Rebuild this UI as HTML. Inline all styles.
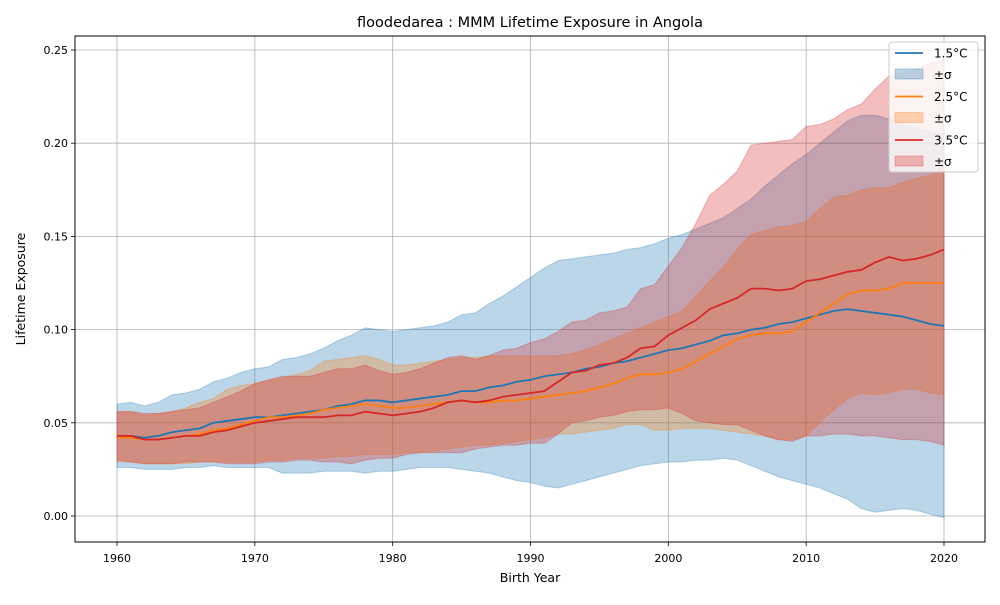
<!DOCTYPE html>
<html><head><meta charset="utf-8"><style>
body{margin:0;background:#fff;font-family:"Liberation Sans","DejaVu Sans",sans-serif}
svg text{font-family:"DejaVu Sans","Liberation Sans",sans-serif}
</style></head><body>
<svg id="chart" width="1000" height="600" viewBox="0 0 1000 600" xmlns="http://www.w3.org/2000/svg">
<rect width="1000" height="600" fill="#fff"/>
<g id="grid"></g>
<g id="bands"></g>
<g id="lines"></g>
<rect x="75" y="36" width="910" height="506" fill="none" stroke="#000" stroke-width="1"/>
<g id="ticks"></g>
<text x="530" y="27" text-anchor="middle" font-size="14.5">floodedarea : MMM Lifetime Exposure in Angola</text>
<text x="530" y="582" text-anchor="middle" font-size="12.5">Birth Year</text>
<text x="25" y="289" text-anchor="middle" font-size="12.5" transform="rotate(-90 25 289)">Lifetime Exposure</text>
<g id="legend"></g>
</svg>
<script>
const years=[];for(let y=1960;y<=2020;y++)years.push(y);
const xTicks=[1960,1970,1980,1990,2000,2010,2020];
const yTicks=[0,0.05,0.10,0.15,0.20,0.25];
const yTickLabels=["0.00","0.05","0.10","0.15","0.20","0.25"];
const m15=[.043,.043,.042,.043,.045,.046,.047,.050,.051,.052,.053,.053,.054,.055,.056,.057,.059,.060,.062,.062,.061,.062,.063,.064,.065,.067,.067,.069,.070,.072,.073,.075,.076,.077,.079,.080,.082,.083,.085,.087,.089,.090,.092,.094,.097,.098,.100,.101,.103,.104,.106,.108,.110,.111,.110,.109,.108,.107,.105,.103,.102];
const hi15=[.060,.061,.059,.061,.065,.066,.068,.072,.074,.077,.079,.080,.084,.085,.087,.090,.094,.097,.101,.100,.099,.100,.101,.102,.104,.108,.109,.114,.118,.123,.128,.133,.137,.138,.139,.140,.141,.143,.144,.146,.149,.151,.154,.157,.160,.165,.170,.177,.183,.189,.194,.200,.206,.212,.215,.215,.213,.210,.208,.206,.205];
const lo15=[.026,.026,.025,.025,.025,.026,.026,.027,.026,.026,.026,.026,.023,.023,.023,.024,.024,.024,.023,.024,.024,.025,.026,.026,.026,.025,.024,.023,.021,.019,.018,.016,.015,.017,.019,.021,.023,.025,.027,.028,.029,.029,.030,.030,.031,.030,.027,.024,.021,.019,.017,.015,.012,.009,.004,.002,.003,.004,.003,.001,-.001];
const m25=[.042,.042,.041,.041,.042,.043,.044,.046,.047,.049,.051,.053,.053,.054,.055,.057,.058,.059,.060,.059,.058,.058,.059,.060,.061,.062,.061,.061,.062,.062,.063,.064,.065,.066,.067,.069,.071,.074,.076,.076,.077,.079,.083,.087,.091,.095,.097,.098,.098,.099,.104,.109,.114,.119,.121,.121,.122,.125,.125,.125,.125];
const hi25=[.056,.056,.054,.055,.056,.058,.061,.063,.068,.070,.071,.073,.074,.076,.078,.083,.084,.085,.086,.084,.081,.081,.082,.083,.084,.085,.085,.086,.086,.086,.086,.086,.086,.087,.089,.092,.095,.098,.101,.104,.107,.110,.118,.126,.134,.143,.151,.153,.155,.156,.158,.165,.171,.172,.175,.176,.176,.179,.181,.183,.185];
const lo25=[.029,.029,.028,.028,.028,.028,.029,.029,.029,.029,.029,.030,.030,.031,.031,.031,.032,.032,.033,.033,.033,.034,.034,.035,.036,.037,.038,.038,.039,.040,.041,.042,.044,.044,.045,.046,.047,.049,.049,.046,.046,.047,.047,.047,.046,.045,.044,.043,.041,.041,.043,.050,.057,.063,.066,.065,.066,.068,.068,.066,.065];
const m35=[.043,.043,.041,.041,.042,.043,.043,.045,.046,.048,.050,.051,.052,.053,.053,.053,.054,.054,.056,.055,.054,.055,.056,.058,.061,.062,.061,.062,.064,.065,.066,.067,.072,.077,.078,.081,.082,.085,.090,.091,.097,.101,.105,.111,.114,.117,.122,.122,.121,.122,.126,.127,.129,.131,.132,.136,.139,.137,.138,.140,.143];
const hi35=[.056,.056,.055,.055,.056,.057,.058,.061,.064,.067,.071,.073,.075,.075,.075,.077,.079,.079,.081,.078,.076,.077,.079,.082,.085,.086,.084,.086,.089,.090,.093,.095,.099,.104,.105,.109,.110,.112,.122,.124,.134,.144,.157,.172,.178,.185,.199,.200,.201,.202,.209,.210,.213,.218,.221,.229,.236,.238,.240,.243,.245];
const lo35=[.030,.029,.028,.028,.028,.029,.029,.029,.028,.028,.028,.029,.029,.030,.030,.029,.029,.028,.030,.031,.031,.033,.034,.034,.034,.034,.036,.037,.038,.038,.039,.039,.044,.050,.051,.053,.054,.056,.057,.057,.058,.055,.051,.050,.049,.049,.046,.043,.041,.040,.043,.043,.044,.044,.043,.043,.042,.041,.041,.040,.038];

const X=v=>117+(v-1960)*(944-117)/60;
const Y=v=>516-v*(516-50)/0.25;
const NS="http://www.w3.org/2000/svg";
function mk(tag,attrs,parent){const e=document.createElementNS(NS,tag);for(const k in attrs)e.setAttribute(k,attrs[k]);parent.appendChild(e);return e;}
const grid=document.getElementById('grid'),ticks=document.getElementById('ticks');
xTicks.forEach(t=>{
  const g=mk('line',{x1:X(t),x2:X(t),y1:36,y2:542,stroke:'#b0b0b0','stroke-width':0.8},grid);
  
  
  mk('line',{x1:X(t),x2:X(t),y1:542,y2:546,stroke:'#000','stroke-width':0.8},ticks);
  const tx=mk('text',{x:X(t),y:562,'text-anchor':'middle','font-size':11},ticks);tx.textContent=t;
  
  
});
yTicks.forEach((t,i)=>{
  const g=mk('line',{x1:75,x2:985,y1:Y(t),y2:Y(t),stroke:'#b0b0b0','stroke-width':0.8},grid);
  
  
  mk('line',{x1:71,x2:75,y1:Y(t),y2:Y(t),stroke:'#000','stroke-width':0.8},ticks);
  const tx=mk('text',{x:68,y:Y(t)+4,'text-anchor':'end','font-size':11},ticks);tx.textContent=yTickLabels[i];
  
  
});
const series=[
 {name:'1.5',m:m15,hi:hi15,lo:lo15,c:'#1f77b4'},
 {name:'2.5',m:m25,hi:hi25,lo:lo25,c:'#ff7f0e'},
 {name:'3.5',m:m35,hi:hi35,lo:lo35,c:'#d62728'}];
const bands=document.getElementById('bands'),lines=document.getElementById('lines');
series.forEach(s=>{
  let d='M'+years.map((y,i)=>X(y)+','+Y(s.hi[i])).join('L');
  d+='L'+years.slice().reverse().map((y,k)=>{const i=years.length-1-k;return X(y)+','+Y(s.lo[i]);}).join('L')+'Z';
  const b=mk('path',{d:d,fill:s.c,'fill-opacity':0.3,stroke:s.c,'stroke-opacity':0.3,'stroke-width':1},bands);
  
  
});
series.forEach(s=>{
  const l=mk('polyline',{points:years.map((y,i)=>X(y)+','+Y(s.m[i])).join(' '),fill:'none',stroke:s.c,'stroke-width':1.8},lines);
  
  
});
const lg=document.getElementById('legend');
mk('rect',{x:889,y:42,width:89,height:130,fill:'#fff','fill-opacity':0.8,stroke:'#ccc',rx:3},lg);
series.forEach((s,i)=>{
  const y0=53+i*43.5;
  const ln=mk('line',{x1:895,x2:923,y1:y0,y2:y0,stroke:s.c,'stroke-width':1.8},lg);
  
  
  const t=mk('text',{x:934,y:y0+4.5,'font-size':12},lg);t.textContent=s.name+'°C';
  
  
  const r=mk('rect',{x:895,y:y0+16,width:28,height:10,fill:s.c,'fill-opacity':0.3,stroke:s.c,'stroke-opacity':0.3},lg);
  
  
  const t2=mk('text',{x:934,y:y0+26,'font-size':12},lg);t2.textContent='±σ';
  
  
});
</script>
</body></html>
